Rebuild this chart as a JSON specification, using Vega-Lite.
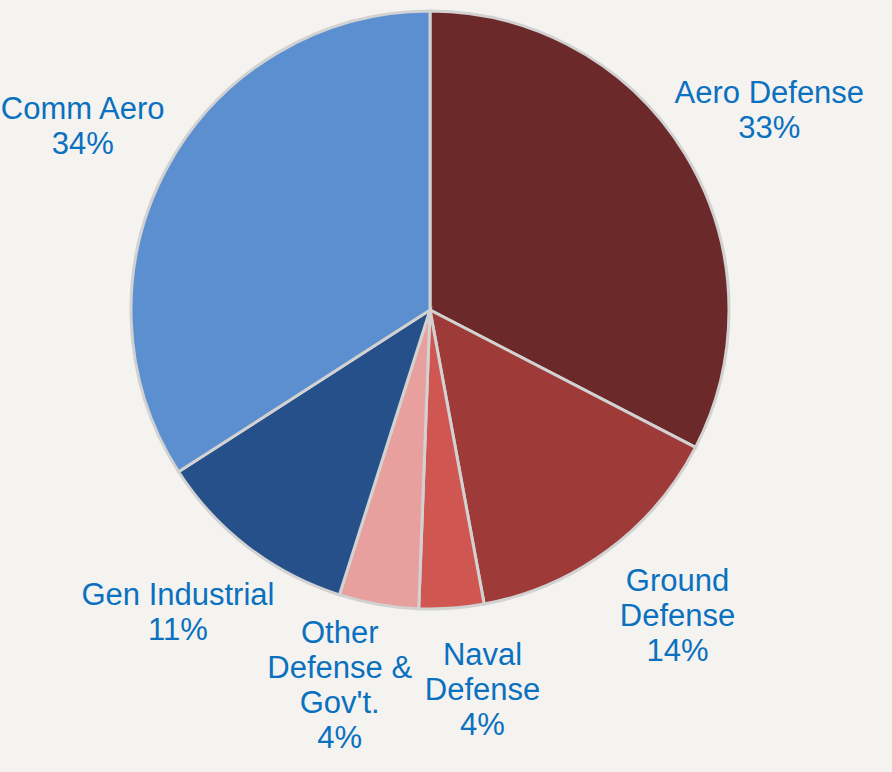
{
  "$schema": "https://vega.github.io/schema/vega-lite/v6.json",
  "width": 860,
  "height": 620,
  "autosize": {"type": "none"},
  "padding": {"left": 0, "top": 0, "right": 32, "bottom": 152},
  "background": "#f5f3ef",
  "config": {"view": {"stroke": null}},
  "data": {
    "values": [
      {"segment": "Aero Defense", "share": 32.6, "label": "Aero Defense\n33%", "rank": 1},
      {"segment": "Ground Defense", "share": 14.5, "label": "Ground\nDefense\n14%", "rank": 2},
      {"segment": "Naval Defense", "share": 3.5, "label": "Naval\nDefense\n4%", "rank": 3},
      {"segment": "Other Defense & Gov't.", "share": 4.3, "label": "Other\nDefense &\nGov't.\n4%", "rank": 4},
      {"segment": "Gen Industrial", "share": 11.0, "label": "Gen Industrial\n11%", "rank": 5},
      {"segment": "Comm Aero", "share": 34.1, "label": "Comm Aero\n34%", "rank": 6}
    ]
  },
  "encoding": {
    "theta": {"field": "share", "type": "quantitative", "stack": true},
    "order": {"field": "rank", "type": "quantitative", "sort": "ascending"}
  },
  "layer": [
    {
      "mark": {"type": "arc", "outerRadius": 299, "stroke": "#d2d2d2", "strokeWidth": 3},
      "encoding": {
        "color": {
          "field": "segment",
          "type": "nominal",
          "scale": {
            "domain": ["Aero Defense", "Ground Defense", "Naval Defense", "Other Defense & Gov't.", "Gen Industrial", "Comm Aero"],
            "range": ["#6b2a29", "#9e3a37", "#d05652", "#e8a09e", "#26508a", "#5b8fd0"]
          },
          "legend": null
        }
      }
    },
    {
      "mark": {
        "type": "text",
        "radius": 382,
        "font": "Liberation Sans",
        "fontSize": 31,
        "lineHeight": 35,
        "lineBreak": "\n",
        "fill": "#0a70c0",
        "align": "center",
        "baseline": "middle",
        "dx": {"expr": "25 * (sin(PI * (datum.share_start + datum.share_end) / 100) >= 0 ? 1 : -1) * abs(cos(PI * (datum.share_start + datum.share_end) / 100))"},
        "dy": {"expr": "-(length(split(datum.label, '\\n')) - 1) * 35 / 2"}
      },
      "encoding": {"text": {"field": "label", "type": "nominal"}}
    }
  ]
}
